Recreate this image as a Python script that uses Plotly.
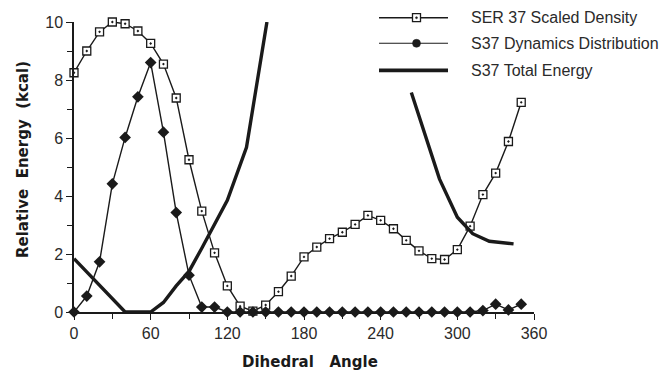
import plotly.graph_objects as go

# ---------------- data ----------------
angles = list(range(0, 360, 10))
scaled_density = [8.25, 9.0, 9.66, 10.0, 9.94, 9.69, 9.26, 8.55, 7.38, 5.25,
                  3.48, 2.04, 0.9, 0.2, 0.03, 0.24, 0.7, 1.24, 1.9, 2.24,
                  2.53, 2.75, 3.02, 3.33, 3.16, 2.87, 2.47, 2.11, 1.84, 1.81,
                  2.15, 2.96, 4.05, 4.79, 5.88, 7.23]
dynamics = [0, 0.55, 1.73, 4.42, 6.02, 7.42, 8.6, 6.2, 3.43, 1.27,
            0.17, 0.17, 0, 0, 0, 0, 0, 0, 0, 0,
            0, 0, 0, 0, 0, 0, 0, 0, 0, 0,
            0, 0, 0.05, 0.27, 0.07, 0.27]
energy_angle = [0, 40, 60, 70, 80, 90, 100, 110, 120, 135, 151, None,
                264, 275, 286, 300, 312, 325, 344]
total_energy = [1.84, 0, 0, 0.33, 0.9, 1.4, 2.2, 3.05, 3.85, 5.68, 10.0, None,
                7.57, 6.05, 4.59, 3.27, 2.7, 2.44, 2.35]

x_ticks = [0, 60, 120, 180, 240, 300, 360]
y_ticks = [0, 2, 4, 6, 8, 10]
legend_names = ["SER 37 Scaled Density", "S37 Dynamics Distribution", "S37 Total Energy"]
x_title = "Dihedral\u00a0\u00a0\u00a0Angle"
y_title = "Relative\u00a0\u00a0Energy\u00a0\u00a0(kcal)"

# ---------------- layout constants ----------------
W, H = 672, 374
ML, MR, MT, MB = 74, 138, 22, 62
PW, PH = W - ML - MR, H - MT - MB
INK = "#1a1a1a"


def px_x(px):
    return (px - ML) / PW


def px_y(py):
    return (H - MB - py) / PH


fig = go.Figure()

fig.add_trace(go.Scatter(
    x=angles, y=scaled_density, mode="lines+markers", name=legend_names[0],
    line=dict(color=INK, width=1.4),
    marker=dict(symbol="square-dot", size=8, color="white",
                line=dict(color=INK, width=1.3)),
    showlegend=False, cliponaxis=False))

fig.add_trace(go.Scatter(
    x=angles, y=dynamics, mode="lines+markers", name=legend_names[1],
    line=dict(color=INK, width=1.4),
    marker=dict(symbol="diamond", size=9, color=INK),
    showlegend=False, cliponaxis=False))

fig.add_trace(go.Scatter(
    x=energy_angle, y=total_energy, mode="lines", name=legend_names[2],
    line=dict(color=INK, width=3.4), connectgaps=False,
    showlegend=False))

# ---------------- custom legend ----------------
rows_py = [17.7, 43.3, 70.3]
x0, x1, xm, xt = 379, 448, 416.5, 469
shapes = []
annotations = []
line_widths = [1.5, 1.1, 3.8]
for i, py in enumerate(rows_py):
    shapes.append(dict(type="line", xref="paper", yref="paper",
                       x0=px_x(x0), x1=px_x(x1), y0=px_y(py), y1=px_y(py),
                       line=dict(color=INK, width=line_widths[i])))
    annotations.append(dict(text=legend_names[i], xref="paper", yref="paper",
                            x=px_x(xt), y=px_y(py), xanchor="left", yanchor="middle",
                            showarrow=False,
                            font=dict(family="Liberation Sans, Arial", size=16, color="#2a2a2a")))
# square marker with dot
shapes.append(dict(type="rect", xref="paper", yref="paper",
                   x0=px_x(xm - 4), x1=px_x(xm + 4), y0=px_y(rows_py[0] + 4), y1=px_y(rows_py[0] - 4),
                   fillcolor="white", line=dict(color=INK, width=1.3)))
shapes.append(dict(type="circle", xref="paper", yref="paper",
                   x0=px_x(xm - 1), x1=px_x(xm + 1), y0=px_y(rows_py[0] + 1), y1=px_y(rows_py[0] - 1),
                   fillcolor=INK, line=dict(color=INK, width=0.5)))
# dot marker
shapes.append(dict(type="circle", xref="paper", yref="paper",
                   x0=px_x(xm - 4), x1=px_x(xm + 4), y0=px_y(rows_py[1] + 4), y1=px_y(rows_py[1] - 4),
                   fillcolor=INK, line=dict(color=INK, width=0.5)))

title_font = dict(family="DejaVu Sans", size=15, color="#1a1a1a", weight="bold")
# axis titles placed as annotations for exact positioning
annotations.append(dict(text=x_title, xref="paper", yref="paper",
                        x=px_x(310), y=px_y(362), xanchor="center", yanchor="middle",
                        showarrow=False, font=title_font))
annotations.append(dict(text=y_title, xref="paper", yref="paper",
                        x=px_x(23), y=px_y(160), xanchor="center", yanchor="middle",
                        textangle=-90, showarrow=False, font=title_font))

tick_font = dict(family="Liberation Sans, Arial", size=16, color="#2a2a2a")

fig.update_layout(
    width=W, height=H,
    margin=dict(l=ML, r=MR, t=MT, b=MB, pad=0, autoexpand=False),
    paper_bgcolor="white", plot_bgcolor="white",
    shapes=shapes, annotations=annotations,
    xaxis=dict(range=[0, 360], tickvals=x_ticks, ticktext=[str(v) for v in x_ticks],
               automargin=False,
               showgrid=False, zeroline=False, showline=True, linecolor=INK, linewidth=1.5,
               ticks="outside", ticklen=6, tickwidth=1.3, tickcolor=INK,
               minor=dict(ticks="outside", ticklen=5, tickwidth=1.1, tickcolor=INK,
                          tickvals=[30, 90, 150, 210, 270, 330], showgrid=False),
               tickfont=tick_font),
    yaxis=dict(range=[0, 10], tickvals=y_ticks, ticktext=[str(v) for v in y_ticks],
               automargin=False,
               showgrid=False, zeroline=False, showline=True, linecolor=INK, linewidth=1.5,
               ticks="outside", ticklen=6, tickwidth=1.3, tickcolor=INK,
               minor=dict(ticks="outside", ticklen=5, tickwidth=1.1, tickcolor=INK,
                          tickvals=[1, 3, 5, 7, 9], showgrid=False),
               tickfont=tick_font),
)

fig.write_html("out.html", config={"displayModeBar": False},
               post_script="document.body.style.margin='0px';document.body.style.padding='0px';")
